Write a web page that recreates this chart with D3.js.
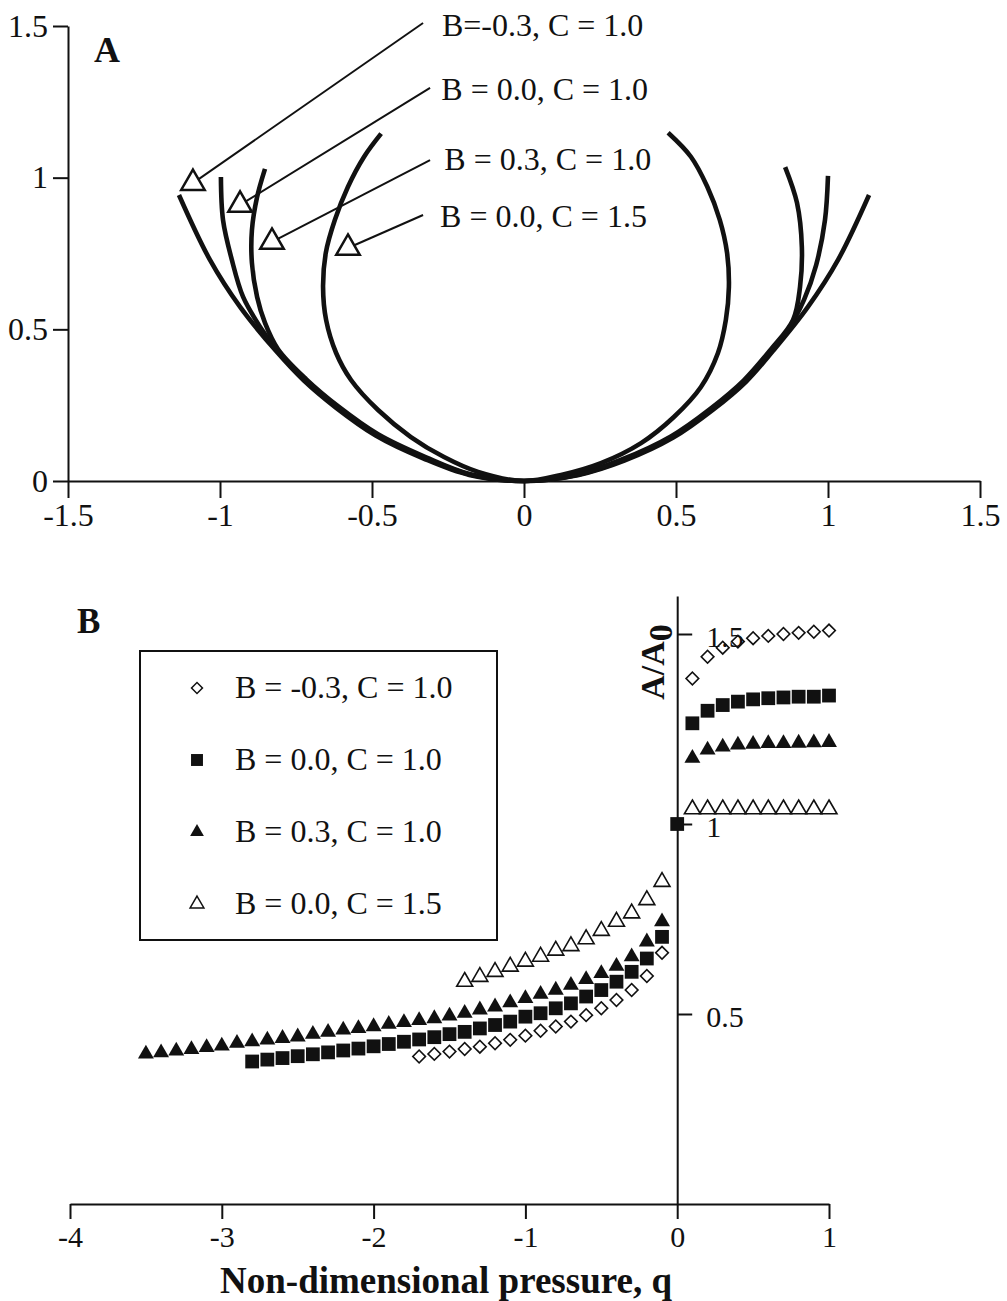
<!DOCTYPE html>
<html>
<head>
<meta charset="utf-8">
<script src="https://d3js.org/d3.v7.min.js"></script>
<style>
body { margin: 0; background: #fff; }
svg { display: block; background: #fff; }
.axis path, .axis line { stroke: #111; stroke-width: 2; }
.axis text { font-family: "Liberation Serif", "Times New Roman", serif; fill: #111; }
text { font-family: "Liberation Serif", "Times New Roman", serif; fill: #111; }
</style>
</head>
<body>
<svg id="fig" width="1007" height="1301"></svg>
<script>
// ---------- Panel A : tube cross-section shapes (x, y) ----------
var curveBm03 = [[-1.135,0.943],[-1.033,0.729],[-0.934,0.574],[-0.817,0.430],[-0.724,0.331],[-0.619,0.242],
    [-0.488,0.150],[-0.330,0.074],[-0.180,0.020],[0,0],[0.180,0.020],[0.330,0.067],[0.491,0.143],
    [0.622,0.235],[0.731,0.328],[0.820,0.430],[0.934,0.574],[1.033,0.729],[1.135,0.943]];
var curveB00 = [[-0.997,1.002],[-0.990,0.860],[-0.961,0.729],[-0.924,0.607],[-0.868,0.508],[-0.813,0.432],
    [-0.720,0.333],[-0.615,0.244],[-0.484,0.152],[-0.326,0.076],[-0.178,0.021],[0,0],[0.178,0.021],
    [0.326,0.069],[0.487,0.145],[0.618,0.237],[0.727,0.330],[0.816,0.432],[0.868,0.498],[0.921,0.597],
    [0.961,0.712],[0.990,0.860],[1.0,1.006]];
var curveB03 = [[-0.852,1.029],[-0.878,0.936],[-0.895,0.827],[-0.895,0.719],[-0.878,0.607],[-0.852,0.521],
    [-0.809,0.434],[-0.716,0.335],[-0.611,0.246],[-0.480,0.154],[-0.322,0.078],[-0.176,0.022],[0,0],
    [0.176,0.022],[0.322,0.071],[0.483,0.147],[0.614,0.239],[0.723,0.332],[0.812,0.434],[0.885,0.531],
    [0.908,0.640],[0.914,0.771],[0.898,0.917],[0.859,1.035]];
var curveC15 = [[-0.470,1.145],[-0.526,1.069],[-0.579,0.970],[-0.622,0.861],[-0.652,0.752],[-0.661,0.640],
    [-0.651,0.531],[-0.618,0.422],[-0.569,0.333],[-0.480,0.234],[-0.372,0.145],[-0.263,0.079],
    [-0.151,0.030],[0,0],[0.122,0.020],[0.253,0.059],[0.385,0.125],[0.493,0.211],[0.582,0.310],
    [0.638,0.422],[0.664,0.531],[0.674,0.640],[0.668,0.752],[0.644,0.861],[0.603,0.970],[0.549,1.069],
    [0.474,1.148]];

var caseLabelsA = ["B=-0.3, C = 1.0", "B = 0.0, C = 1.0", "B = 0.3, C = 1.0", "B = 0.0, C = 1.5"];
// where each label's pointer lands (data units) and where it leaves the label
var pointerTips = [[-1.089,0.982],[-0.934,0.910],[-0.829,0.788],[-0.579,0.768]];
var pointerTails = [[-0.332,1.510],[-0.309,1.296],[-0.309,1.058],[-0.332,0.877]];
var labelAnchorsA = [[-0.270,1.467],[-0.272,1.256],[-0.262,1.026],[-0.276,0.837]];

var xTicksA = [-1.5,-1,-0.5,0,0.5,1,1.5];
var yTicksA = [0,0.5,1,1.5];

// ---------- Panel B : A/A0 vs non-dimensional pressure q ----------
var qDiamond = [-1.7,-1.6,-1.5,-1.4,-1.3,-1.2,-1.1,-1.0,-0.9,-0.8,-0.7,-0.6,-0.5,-0.4,-0.3,-0.2,-0.1,
    0.1,0.2,0.3,0.4,0.5,0.6,0.7,0.8,0.9,1.0];
var aDiamond = [0.388,0.395,0.401,0.408,0.414,0.423,0.432,0.443,0.456,0.467,0.480,0.497,0.515,0.537,0.563,0.600,0.661,
    1.383,1.440,1.464,1.480,1.489,1.495,1.500,1.503,1.506,1.509];

var qSquare = [-2.8,-2.7,-2.6,-2.5,-2.4,-2.3,-2.2,-2.1,-2.0,-1.9,-1.8,-1.7,-1.6,-1.5,-1.4,-1.3,-1.2,-1.1,-1.0,
    -0.9,-0.8,-0.7,-0.6,-0.5,-0.4,-0.3,-0.2,-0.1,0,0.1,0.2,0.3,0.4,0.5,0.6,0.7,0.8,0.9,1.0];
var aSquare = [0.375,0.380,0.384,0.389,0.394,0.399,0.404,0.409,0.415,0.421,0.427,0.433,0.439,0.447,0.453,0.462,
    0.471,0.480,0.493,0.502,0.515,0.528,0.546,0.563,0.585,0.611,0.646,0.703,1.0,
    1.265,1.298,1.313,1.322,1.328,1.331,1.333,1.335,1.335,1.338];

var qTriFilled = [-3.5,-3.4,-3.3,-3.2,-3.1,-3.0,-2.9,-2.8,-2.7,-2.6,-2.5,-2.4,-2.3,-2.2,-2.1,-2.0,-1.9,-1.8,
    -1.7,-1.6,-1.5,-1.4,-1.3,-1.2,-1.1,-1.0,-0.9,-0.8,-0.7,-0.6,-0.5,-0.4,-0.3,-0.2,-0.1,
    0.1,0.2,0.3,0.4,0.5,0.6,0.7,0.8,0.9,1.0];
var aTriFilled = [0.395,0.398,0.403,0.407,0.412,0.416,0.423,0.427,0.432,0.436,0.440,0.447,0.452,0.458,0.462,
    0.467,0.473,0.478,0.483,0.488,0.495,0.502,0.511,0.519,0.530,0.541,0.552,0.563,0.576,0.591,0.607,0.626,
    0.651,0.690,0.743,
    1.173,1.195,1.203,1.208,1.210,1.212,1.212,1.213,1.214,1.215];

var qTriOpen = [-1.4,-1.3,-1.2,-1.1,-1.0,-0.9,-0.8,-0.7,-0.6,-0.5,-0.4,-0.3,-0.2,-0.1,
    0.1,0.2,0.3,0.4,0.5,0.6,0.7,0.8,0.9,1.0];
var aTriOpen = [0.585,0.598,0.611,0.625,0.638,0.651,0.667,0.679,0.697,0.719,0.743,0.765,0.800,0.848,
    1.039,1.039,1.039,1.039,1.039,1.039,1.039,1.039,1.039,1.039];

var legendLabelsB = ["B = -0.3, C = 1.0", "B = 0.0, C = 1.0", "B = 0.3, C = 1.0", "B = 0.0, C = 1.5"];
var xTicksB = [-4,-3,-2,-1,0,1];
var yTicksB = [0.5,1,1.5];

var svg = d3.select("#fig");
var fmt = function(d){ return String(d); };

// marker types used for both the plot and the legend
var markerStyles = [
    {type: d3.symbolSquare, size: 80, rotate: 45, fill: "none"},   // open diamond
    {type: d3.symbolSquare, size: 190, rotate: 0, fill: "#111"},   // filled square
    {type: d3.symbolTriangle, size: 110, rotate: 0, fill: "#111"}, // filled triangle
    {type: d3.symbolTriangle, size: 110, rotate: 0, fill: "none"}  // open triangle
];

function drawPanelA() {
    var xA = d3.scaleLinear().domain([-1.5, 1.5]).range([68, 980]);
    var yA = d3.scaleLinear().domain([0, 1.5]).range([481, 26]);

    svg.append("g")
        .attr("class", "axis")
        .attr("transform", "translate(0," + yA(0) + ")")
        .call(d3.axisBottom(xA).tickValues(xTicksA).tickSize(17).tickSizeOuter(0).tickPadding(5).tickFormat(fmt))
        .selectAll("text").attr("font-size", 32);

    svg.append("g")
        .attr("class", "axis")
        .attr("transform", "translate(" + xA(-1.5) + ",0)")
        .call(d3.axisLeft(yA).tickValues(yTicksA).tickSize(15).tickSizeOuter(0).tickPadding(5).tickFormat(fmt))
        .selectAll("text").attr("font-size", 32);

    var line = d3.line()
        .x(function(d){ return xA(d[0]); })
        .y(function(d){ return yA(d[1]); })
        .curve(d3.curveCatmullRom.alpha(0.5));

    svg.append("g").selectAll("path")
        .data([curveBm03, curveB00, curveB03, curveC15])
        .enter()
        .append("path")
        .attr("d", line)
        .attr("fill", "none")
        .attr("stroke", "#111")
        .attr("stroke-width", 4.6);

    // pointers from labels to the curves
    var ann = svg.append("g");
    ann.selectAll("line")
        .data(pointerTips)
        .enter()
        .append("line")
        .attr("x1", function(d, i){ return xA(pointerTails[i][0]); })
        .attr("y1", function(d, i){ return yA(pointerTails[i][1]); })
        .attr("x2", function(d){ return xA(d[0]); })
        .attr("y2", function(d){ return yA(d[1]); })
        .attr("stroke", "#111")
        .attr("stroke-width", 2);

    ann.selectAll("path")
        .data(pointerTips)
        .enter()
        .append("path")
        .attr("d", d3.symbol().type(d3.symbolTriangle).size(240))
        .attr("transform", function(d){ return "translate(" + xA(d[0]) + "," + yA(d[1]) + ")"; })
        .attr("fill", "#fff")
        .attr("stroke", "#111")
        .attr("stroke-width", 2.5);

    ann.selectAll("text")
        .data(caseLabelsA)
        .enter()
        .append("text")
        .attr("x", function(d, i){ return xA(labelAnchorsA[i][0]); })
        .attr("y", function(d, i){ return yA(labelAnchorsA[i][1]); })
        .attr("font-size", 32)
        .text(function(d){ return d; });

    svg.append("text")
        .attr("x", 94).attr("y", 62)
        .attr("font-size", 36).attr("font-weight", "bold")
        .text("A");
}

function drawPanelB() {
    var xB = d3.scaleLinear().domain([-4, 1]).range([70, 829]);
    var yB = d3.scaleLinear().domain([0, 1.6]).range([1204, 596]);

    svg.append("g")
        .attr("class", "axis")
        .attr("transform", "translate(0," + yB(0) + ")")
        .call(d3.axisBottom(xB).tickValues(xTicksB).tickSize(15).tickSizeOuter(0).tickPadding(7).tickFormat(fmt))
        .selectAll("text").attr("font-size", 30);

    svg.append("g")
        .attr("class", "axis")
        .attr("transform", "translate(" + xB(0) + ",0)")
        .call(d3.axisRight(yB).tickValues(yTicksB).tickSize(15).tickSizeOuter(0).tickPadding(14).tickFormat(fmt))
        .selectAll("text").attr("font-size", 30).attr("dy", "0.42em");

    var series = [
        {q: qDiamond, a: aDiamond},
        {q: qSquare, a: aSquare},
        {q: qTriFilled, a: aTriFilled},
        {q: qTriOpen, a: aTriOpen}
    ];

    series.forEach(function(s, k){
        var m = markerStyles[k];
        svg.append("g").selectAll("path")
            .data(s.q)
            .enter()
            .append("path")
            .attr("d", d3.symbol().type(m.type).size(m.size))
            .attr("transform", function(d, i){
                return "translate(" + xB(d) + "," + yB(s.a[i]) + ") rotate(" + m.rotate + ")";
            })
            .attr("fill", m.fill)
            .attr("stroke", "#111")
            .attr("stroke-width", m.fill == "none" ? 1.6 : 0);
    });

    // legend
    var lg = svg.append("g");
    lg.append("rect")
        .attr("x", 140).attr("y", 651)
        .attr("width", 357).attr("height", 289)
        .attr("fill", "none").attr("stroke", "#111").attr("stroke-width", 2);

    var rows = lg.selectAll("g.row")
        .data(legendLabelsB)
        .enter()
        .append("g")
        .attr("class", "row")
        .attr("transform", function(d, i){ return "translate(0," + (688 + i * 72) + ")"; });
    rows.append("path")
        .attr("d", function(d, i){ return d3.symbol().type(markerStyles[i].type).size(markerStyles[i].size * 0.75)(); })
        .attr("transform", function(d, i){ return "translate(197,0) rotate(" + markerStyles[i].rotate + ")"; })
        .attr("fill", function(d, i){ return markerStyles[i].fill; })
        .attr("stroke", "#111")
        .attr("stroke-width", function(d, i){ return markerStyles[i].fill == "none" ? 1.5 : 0; });
    rows.append("text")
        .attr("x", 235).attr("y", 10)
        .attr("font-size", 32)
        .text(function(d){ return d; });

    // axis titles
    var yl = svg.append("text")
        .attr("transform", "translate(664,662) rotate(-90)")
        .attr("text-anchor", "middle")
        .attr("font-size", 34).attr("font-weight", "bold");
    yl.append("tspan").text("A/A");
    yl.append("tspan").attr("dy", 8).text("0");

    svg.append("text")
        .attr("x", 446).attr("y", 1293)
        .attr("text-anchor", "middle")
        .attr("font-size", 37).attr("font-weight", "bold")
        .text("Non-dimensional pressure, q");

    svg.append("text")
        .attr("x", 77).attr("y", 633)
        .attr("font-size", 35).attr("font-weight", "bold")
        .text("B");
}

drawPanelA();
drawPanelB();
</script>
</body>
</html>
